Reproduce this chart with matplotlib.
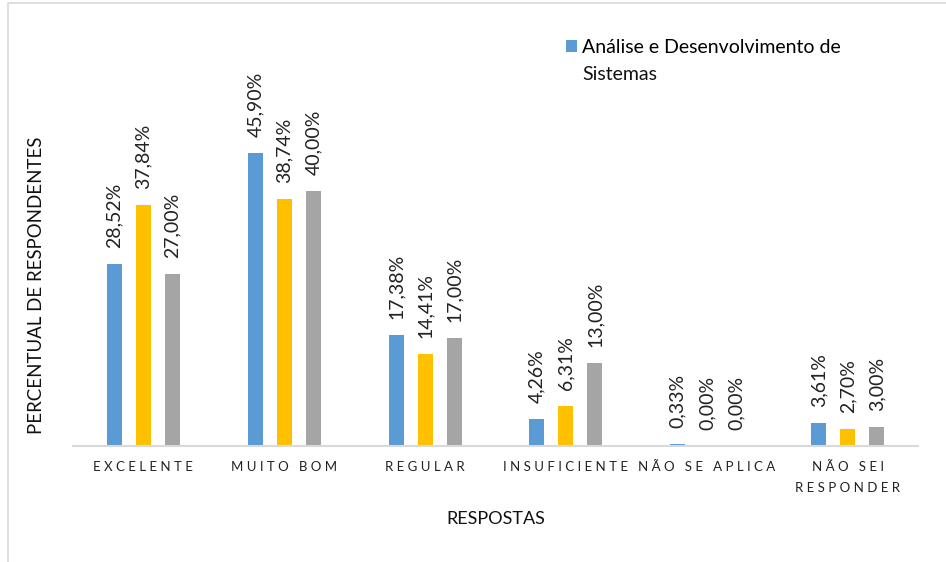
import numpy as np
import matplotlib
matplotlib.use('Agg')
import matplotlib.pyplot as plt
from matplotlib.patches import Rectangle

plt.rcParams['font.family'] = ['Lato', 'DejaVu Sans']

categorias = ['EXCELENTE', 'MUITO BOM', 'REGULAR', 'INSUFICIENTE',
              'NÃO SE APLICA', 'NÃO SEI\nRESPONDER']
ads = [28.52, 45.90, 17.38, 4.26, 0.33, 3.61]
serie2 = [37.84, 38.74, 14.41, 6.31, 0.00, 2.70]
serie3 = [27.00, 40.00, 17.00, 13.00, 0.00, 3.00]
legenda = 'Análise e Desenvolvimento de'
legenda2 = 'Sistemas'

cores = ['#5B9BD5', '#FFC000', '#A5A5A5']


def espacar(txt):
    # imitate Excel letter spacing
    return '\n'.join(' '.join(linha) for linha in txt.split('\n'))


fig = plt.figure(figsize=(9.46, 5.62), dpi=100)
W, H = 946, 562
ax = fig.add_axes([73 / W, 1 - 446 / H, 845 / W, 319 / H])

x = np.arange(len(categorias))
largura = 0.106
passo = 0.206
barras = []
for i, (serie, cor) in enumerate(zip([ads, serie2, serie3], cores)):
    b = ax.bar(x + (i - 1) * passo, serie, width=largura, color=cor, zorder=2)
    barras.append(b)
    for xi, v in zip(x + (i - 1) * passo, serie):
        ax.annotate(f'{v:.2f}%'.replace('.', ','), (xi, v),
                    xytext=(0, 11.5), textcoords='offset points',
                    rotation=90, ha='center', va='bottom',
                    fontsize=14, color='#222222')

ax.set_xlim(-0.5, len(categorias) - 0.5)
ax.set_ylim(0, 50)
ax.set_yticks([])
ax.set_xticks(x)
ax.set_xticklabels([espacar(c) for c in categorias], fontsize=9.5,
                   color='#222222', linespacing=1.9)
ax.tick_params(axis='x', length=0, pad=11)
for s in ['top', 'right', 'left']:
    ax.spines[s].set_visible(False)
ax.spines['bottom'].set_color('#D9D9D9')
ax.spines['bottom'].set_linewidth(1.5)

ax.set_xlabel('RESPOSTAS', fontsize=13, color='#111111', labelpad=12)
fig.text(37 / W, 1 - 285 / H, 'PERCENTUAL DE RESPONDENTES', rotation=90,
         ha='center', va='center', fontsize=13.4, color='#111111')

leg = ax.legend([barras[0]], [legenda], loc='upper left',
                bbox_to_anchor=(566 / W, 1 - 39 / H),
                bbox_transform=fig.transFigure, frameon=False,
                fontsize=14, handlelength=0.55, handleheight=0.55,
                handletextpad=0.25, borderpad=0, borderaxespad=0)
fig.text(582 / W, 1 - 75 / H, legenda2, ha='left', va='center',
         fontsize=14, color='#111111')

# chart area border (cropped on right and bottom)
fig.patches.append(Rectangle((8 / W, -0.1), 1.2, 1 - 3 / H + 0.1,
                             transform=fig.transFigure, fill=False,
                             edgecolor='#D9D9D9', linewidth=1.2))

fig.savefig('out.png', dpi=100)
